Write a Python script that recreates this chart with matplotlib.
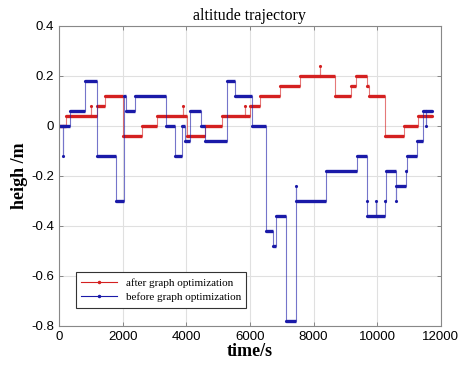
import numpy as np
import matplotlib
matplotlib.use("Agg")
import matplotlib.pyplot as plt

# step data: change times (s) and the value held from that time on
t_after = [0, 220, 995, 995, 1183, 1444, 2000, 2596, 3087, 3884, 3884, 4009,
           4584, 5108, 5840, 5840, 5997, 6311, 6939, 7567, 8195, 8195, 8666,
           9190, 9326, 9682, 9745, 10236, 10833, 11283, 11734]
h_after = [0, 0.04, 0.08, 0.04, 0.08, 0.12, -0.04, 0, 0.04, 0.08, 0.04, -0.04,
           0, 0.04, 0.08, 0.04, 0.08, 0.12, 0.16, 0.2, 0.24, 0.2, 0.12,
           0.16, 0.2, 0.16, 0.12, -0.04, 0, 0.04, 0.04]

t_before = [0, 136, 136, 345, 816, 1183, 1779, 2041, 2104, 2386, 3360, 3642,
            3851, 3956, 4113, 4448, 4584, 5265, 5526, 6050, 6500, 6730, 6814,
            7149, 7463, 7463, 8384, 9368, 9682, 9682, 9975, 9975, 10236, 10268,
            10603, 10603, 10917, 10938, 11251, 11440, 11545, 11545, 11734]
h_before = [0, -0.12, 0, 0.06, 0.18, -0.12, -0.3, 0.12, 0.06, 0.12, 0, -0.12,
            0, -0.06, 0.06, 0, -0.06, 0.18, 0.12, 0, -0.42, -0.48, -0.36,
            -0.78, -0.24, -0.3, -0.18, -0.12, -0.3, -0.36, -0.3, -0.36, -0.3, -0.18,
            -0.3, -0.24, -0.18, -0.12, -0.06, 0.06, 0, 0.06, 0.06]

red = "#d42020"
blue = "#1a1aa8"

fig = plt.figure(figsize=(4.59, 3.70), dpi=100)
ax = fig.add_axes([0.1285, 0.1197, 0.832, 0.811])

def draw(t, h, c, lab):
    t = np.array(t, float)
    h = np.array(h, float)
    ax.step(t, h, where="post", color=c, lw=0.8, alpha=0.6)
    ax.hlines(h[:-1], t[:-1], t[1:], color=c, lw=2.4)
    ax.plot(t, h, ".", color=c, ms=2.5)
    ax.plot([], [], "-", marker=".", ms=3, color=c, lw=0.8, label=lab)

draw(t_after, h_after, red, "after graph optimization")
draw(t_before, h_before, blue, "before graph optimization")

ax.set_xlim(0, 12000)
ax.set_ylim(-0.8, 0.4)
ax.set_xticks(np.arange(0, 12001, 2000))
ax.set_yticks(np.arange(-0.8, 0.41, 0.2))
ax.set_yticklabels(["-0.8", "-0.6", "-0.4", "-0.2", "0", "0.2", "0.4"])
ax.grid(True, color="#e0e0e0", lw=0.8)
ax.set_axisbelow(True)
ax.tick_params(direction="in", top=True, right=True, length=3, width=0.6,
               color="#777777", labelsize=9.5)
for lbl in ax.get_xticklabels() + ax.get_yticklabels():
    lbl.set_family("Liberation Sans")
for s in ax.spines.values():
    s.set_color("#888888")
    s.set_linewidth(0.8)

ax.set_title("altitude trajectory", family="Liberation Serif", fontsize=11.5, pad=4)
ax.set_xlabel("time/s", family="Liberation Serif", fontsize=13, fontweight="bold", labelpad=0)
ax.set_ylabel("heigh /m", family="Liberation Serif", fontsize=13, fontweight="bold", labelpad=2)

leg = ax.legend(loc="lower left", bbox_to_anchor=(0.029, 0.042), fancybox=False,
                prop={"family": "Liberation Serif", "size": 8}, handlelength=3.2,
                borderpad=0.5, labelspacing=0.4, framealpha=1)
leg.get_frame().set_edgecolor("#333333")
leg.get_frame().set_linewidth(0.8)

fig.savefig("out.png", dpi=100)
